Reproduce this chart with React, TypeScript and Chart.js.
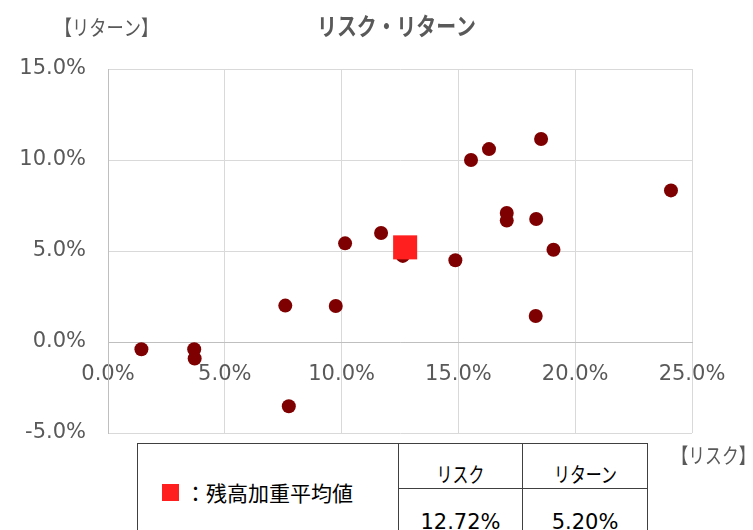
import React, { useEffect, useRef } from 'react';
import { Chart, registerables } from 'chart.js';

Chart.register(...registerables);

// ---- data (percent units) ----
const RISK = [18.54, 16.31, 15.54, 24.1, 17.07, 17.07, 18.33, 11.69, 10.15, 12.62, 14.87, 19.07, 7.59, 9.75, 18.31, 1.43, 3.69, 3.71, 7.74];
const RETURN = [11.15, 10.6, 10.0, 8.33, 7.09, 6.67, 6.76, 5.99, 5.42, 4.73, 4.49, 5.07, 2.0, 1.98, 1.43, -0.4, -0.4, -0.91, -3.53];
const AVG_RISK = [12.72];
const AVG_RETURN = [5.2];
const X_RANGE = [0, 25];
const Y_RANGE = [-5, 15];
const TICK_STEP = 5;

const TITLE = 'リスク・リターン';
const Y_NAME = '【リターン】';
const X_NAME = '【リスク】';
const TABLE_LABEL = '：残高加重平均値';
const TABLE_HEADERS = ['リスク', 'リターン'];
const TABLE_VALUES = ['12.72%', '5.20%'];

const GRAY = '#595959';
const JP = '"Noto Sans CJK JP", sans-serif';
const NUM = '"DejaVu Sans", sans-serif';

function drawCondensed(ctx: CanvasRenderingContext2D, text: string, x: number, y: number, font: string, sx: number) {
  ctx.save();
  ctx.translate(x, y);
  ctx.scale(sx, 1);
  ctx.font = font;
  ctx.fillStyle = GRAY;
  ctx.textAlign = 'center';
  ctx.textBaseline = 'middle';
  ctx.fillText(text, 0, 0);
  ctx.restore();
}

const labelsPlugin = {
  id: 'riskReturnLabels',
  afterDraw(chart: any) {
    const { ctx, chartArea } = chart;
    const cx = (chartArea.left + chartArea.right) / 2 - 3.5;
    drawCondensed(ctx, TITLE, cx, 26, `bold 24px ${JP}`, 0.83);
    drawCondensed(ctx, Y_NAME, chartArea.left - 1.5, 27.5, `21px ${JP}`, 0.82);
    drawCondensed(ctx, X_NAME, chartArea.right + 21.5, chartArea.bottom + 22, `21px ${JP}`, 0.8);
  },
};

const pctLabel = (v: any) => `${Number(v).toFixed(1)}%`;

export default function App() {
  const ref = useRef<HTMLCanvasElement | null>(null);

  useEffect(() => {
    if (!ref.current) return;
    const chart = new Chart(ref.current, {
      type: 'scatter',
      data: {
        datasets: [
          {
            label: '残高加重平均値',
            data: AVG_RISK.map((x, i) => ({ x, y: AVG_RETURN[i] })),
            pointStyle: 'rect',
            pointRadius: 17,
            backgroundColor: '#FF1F1F',
            borderWidth: 0,
          },
          {
            label: 'ファンド',
            data: RISK.map((x, i) => ({ x, y: RETURN[i] })),
            pointStyle: 'circle',
            pointRadius: 7,
            backgroundColor: '#7F0000',
            borderWidth: 0,
          },
        ],
      },
      options: {
        animation: false,
        responsive: false,
        events: [],
        layout: { padding: { top: 69, right: 61, bottom: 97, left: 0 } },
        plugins: {
          legend: { display: false },
          tooltip: { enabled: false },
          title: { display: false },
        },
        scales: {
          x: {
            type: 'linear',
            position: { y: 0 } as any,
            min: X_RANGE[0],
            max: X_RANGE[1],
            ticks: {
              stepSize: TICK_STEP,
              padding: 20,
              color: GRAY,
              font: { family: NUM, size: 21 },
              callback: pctLabel,
              maxRotation: 0,
              autoSkip: false,
            },
            grid: { color: '#d9d9d9', drawTicks: false },
            border: { color: '#bfbfbf', width: 1 },
          },
          y: {
            type: 'linear',
            min: Y_RANGE[0],
            max: Y_RANGE[1],
            ticks: {
              stepSize: TICK_STEP,
              padding: 22,
              color: GRAY,
              font: { family: NUM, size: 21 },
              callback: pctLabel,
            },
            grid: { color: '#d9d9d9', drawTicks: false },
            border: { color: '#bfbfbf', width: 1 },
            afterFit: (s: any) => {
              s.width = 108;
            },
          },
        },
      },
      plugins: [labelsPlugin],
    });
    return () => chart.destroy();
  }, []);

  const cell: React.CSSProperties = {
    border: '1px solid #404040',
    padding: 0,
    textAlign: 'center',
  };
  const condensed: React.CSSProperties = {
    display: 'inline-block',
    transform: 'scaleX(0.76)',
    fontFamily: JP,
    fontSize: 21,
    lineHeight: '21px',
  };

  return (
    <div style={{ position: 'fixed', left: 0, top: 0, width: 753, height: 530, overflow: 'hidden', background: '#fff' }}>
      <canvas ref={ref} width={753} height={530} style={{ position: 'absolute', left: 0, top: 0 }} />
      <table
        style={{
          position: 'absolute',
          left: 137,
          top: 443,
          width: 511,
          borderCollapse: 'collapse',
          tableLayout: 'fixed',
          color: '#000',
          background: '#fff',
        }}
      >
        <colgroup>
          <col style={{ width: 261 }} />
          <col style={{ width: 124 }} />
          <col style={{ width: 125 }} />
        </colgroup>
        <tbody>
          <tr style={{ height: 45 }}>
            <td rowSpan={2} style={{ ...cell, textAlign: 'left', verticalAlign: 'middle' }}>
              <div style={{ display: 'flex', alignItems: 'center', paddingLeft: 24 }}>
                <span style={{ display: 'inline-block', width: 17, height: 17, background: '#FF1F1F', marginRight: 6 }} />
                <span style={{ fontFamily: JP, fontSize: 21, lineHeight: '24px' }}>{TABLE_LABEL}</span>
              </div>
            </td>
            {TABLE_HEADERS.map((h) => (
              <td key={h} style={{ ...cell, verticalAlign: 'bottom', paddingBottom: 2 }}>
                <span style={condensed}>{h}</span>
              </td>
            ))}
          </tr>
          <tr style={{ height: 52 }}>
            {TABLE_VALUES.map((v) => (
              <td key={v} style={{ ...cell, verticalAlign: 'top', paddingTop: 21, fontFamily: NUM, fontSize: 21, lineHeight: 'normal' }}>
                {v}
              </td>
            ))}
          </tr>
        </tbody>
      </table>
    </div>
  );
}
